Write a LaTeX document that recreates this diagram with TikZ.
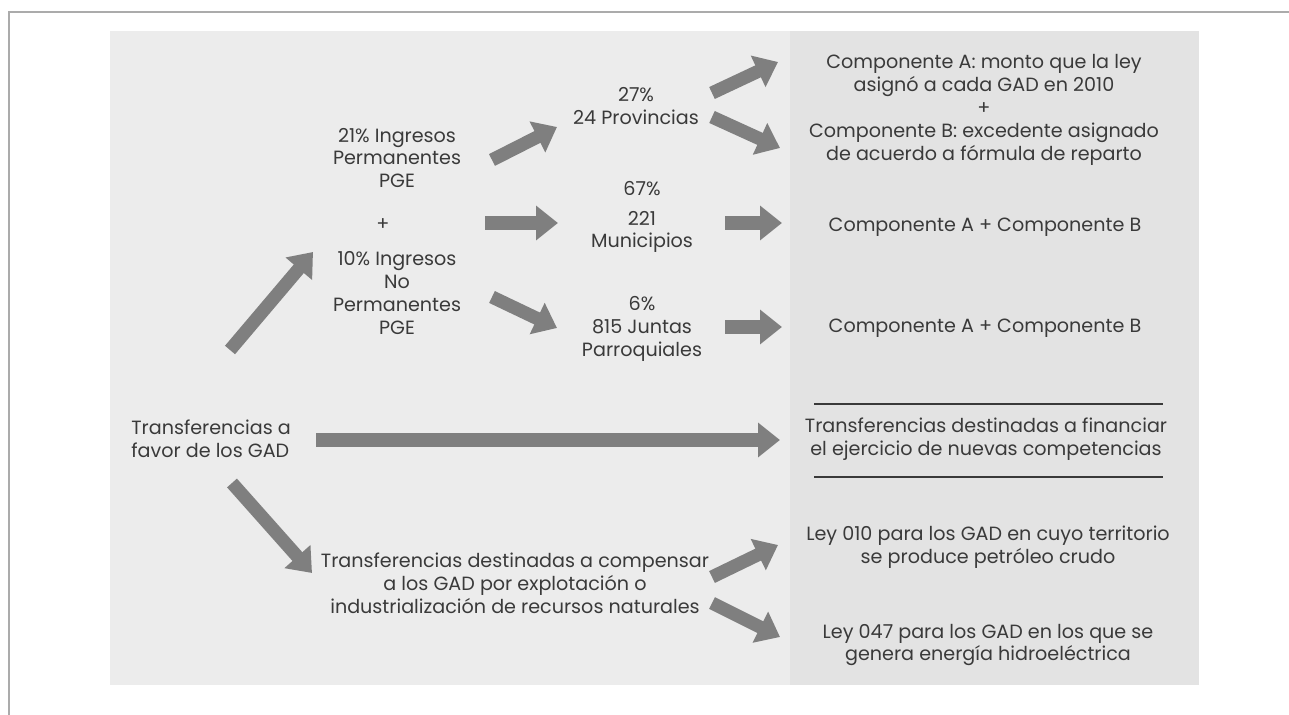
\documentclass[tikz,border=0pt]{standalone}
\usepackage{fontspec}
\setmainfont{Poppins}
\usetikzlibrary{arrows.meta}

\definecolor{framegray}{HTML}{ABABAB}
\definecolor{bggray}{HTML}{ECECEC}
\definecolor{panelgray}{HTML}{E3E3E3}
\definecolor{arrowgray}{HTML}{7F7F7F}
\definecolor{inkgray}{HTML}{3A3A3A}

\begin{document}
\begin{tikzpicture}[
  x=0.02cm, y=-0.02cm,
  font=\fontsize{10.9}{13}\selectfont,
  txt/.style={text=inkgray, align=center, inner sep=0pt},
  bigarrow/.style={arrowgray, line width=7.5pt, -{Triangle[length=12.5pt,width=19pt]}},
  rule/.style={inkgray, line width=1.6pt}
]
\useasboundingbox (0,0) rectangle (1289,715);

% Frame and backgrounds.
\draw[framegray, line width=0.9pt] (9,715) -- (9,12) -- (1289,12);
\fill[bggray] (110,31) rectangle (1199,685);
\fill[panelgray] (790,31) rectangle (1199,685);

% --------------------------------------------------------------------------
% Left and middle columns.
% --------------------------------------------------------------------------
\node[txt, align=left, anchor=west] (gad) at (131,439)
  {Transferencias a\\favor de los GAD};

\node[txt] (perm) at (397,158) {21\% Ingresos\\Permanentes\\PGE};
\node[txt] (plus) at (383,225) {+};
\node[txt] (noperm) at (397,293) {10\% Ingresos\\No\\Permanentes\\PGE};

\node[txt] (prov) at (636,106) {27\%\\24 Provincias};
\node[txt] (mun) at (642,217) {67\%\\[1.4mm]221\\Municipios};
\node[txt] (jun) at (642,329) {6\%\\815 Juntas\\Parroquiales};

\node[txt] (comp) at (515,583)
  {Transferencias destinadas a compensar\\a los GAD por explotación o\\industrialización de recursos naturales};

% --------------------------------------------------------------------------
% Right panel.
% --------------------------------------------------------------------------
\node[txt] (provr) at (984,110)
  {Componente A: monto que la ley\\asignó a cada GAD en 2010\\+\\Componente B: excedente asignado\\de acuerdo a fórmula de reparto};
\node[txt] (munr) at (985,227) {Componente A + Componente B};
\node[txt] (junr) at (985,328) {Componente A + Componente B};
\node[txt] (nuevas) at (986,439)
  {Transferencias destinadas a financiar\\el ejercicio de nuevas competencias};
\node[txt] (ley010) at (988,547)
  {Ley 010 para los GAD en cuyo territorio\\se produce petróleo crudo};
\node[txt] (ley047) at (988,645)
  {Ley 047 para los GAD en los que se\\genera energía hidroeléctrica};

% Rules round the new competences box.
\coordinate (rtopl) at (814,404);
\coordinate (rtopr) at (1163,404);
\coordinate (rbotl) at (814,477);
\coordinate (rbotr) at (1163,477);
\draw[rule] (rtopl) -- (rtopr);
\draw[rule] (rbotl) -- (rbotr);

% --------------------------------------------------------------------------
% Block arrows: tail/tip pairs.
% --------------------------------------------------------------------------
\foreach \n/\sx/\sy/\tx/\ty in {
    up/230/350/313/252, perm/492/160/557/127, mid/485/223/558/223,
    low/492/297/557/328, provA/712/93/778/62, provB/712/117/780/148,
    mun/725/223/782/223, jun/725/327/782/327, main/316/440/780/440,
    down/232/483/312/573, leyA/712/577/778/545, leyB/712/603/780/637}
{
  \coordinate (\n-s) at (\sx,\sy);
  \coordinate (\n-t) at (\tx,\ty);
}
\foreach \n in {up,perm,mid,low,provA,provB,mun,jun,main,down,leyA,leyB}
  \draw[bigarrow] (\n-s) -- (\n-t);

\end{tikzpicture}
\end{document}
